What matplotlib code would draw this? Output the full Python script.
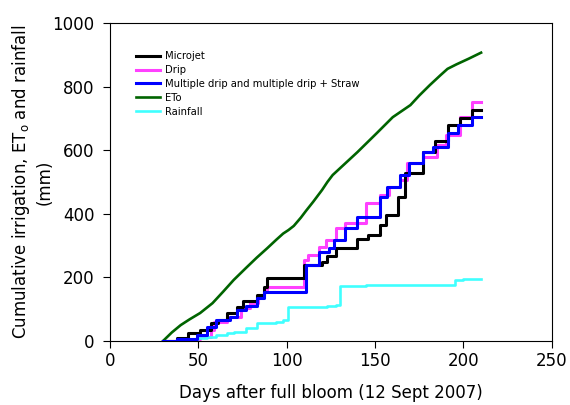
import matplotlib
matplotlib.use("Agg")
import matplotlib.pyplot as plt

plt.rcParams['font.family'] = ['DejaVu Sans']

micro_days = [30, 38, 44, 51, 57, 61, 66, 72, 75, 83, 87, 89, 110, 120, 123, 128, 140, 146, 153, 156, 163, 167, 177, 184, 191, 198, 205, 210]
micro_vals = [0, 9, 24, 35, 57, 66, 88, 107, 126, 145, 170, 198, 239, 248, 267, 292, 320, 333, 365, 396, 453, 528, 594, 629, 679, 701, 726, 726]

drip_days = [30, 47, 51, 57, 59, 66, 74, 79, 84, 87, 89, 110, 112, 118, 122, 128, 133, 145, 153, 158, 164, 168, 177, 185, 190, 198, 205, 210]
drip_vals = [0, 5, 13, 35, 60, 75, 104, 120, 145, 160, 170, 255, 270, 296, 318, 355, 371, 434, 459, 484, 506, 560, 579, 616, 648, 704, 752, 752]

multi_days = [30, 38, 49, 55, 60, 68, 72, 77, 83, 87, 111, 118, 124, 127, 133, 140, 153, 157, 164, 169, 177, 183, 191, 197, 205, 210]
multi_vals = [0, 5, 19, 44, 66, 75, 97, 110, 135, 154, 239, 280, 292, 318, 355, 390, 453, 484, 522, 560, 594, 610, 654, 679, 704, 704]

eto_days = [30, 35, 40, 45, 51, 58, 64, 70, 77, 83, 89, 94, 98, 101, 104, 108, 111, 115, 120, 123, 126, 133, 140, 151, 160, 170, 175, 181, 187, 191, 196, 203, 210]
eto_vals = [0, 27, 50, 68, 88, 119, 155, 192, 230, 262, 292, 318, 338, 349, 362, 388, 410, 438, 475, 500, 522, 558, 594, 654, 704, 742, 772, 805, 836, 856, 870, 888, 907]

rain_days = [30, 40, 45, 50, 55, 60, 66, 70, 77, 83, 94, 98, 101, 123, 128, 130, 145, 195, 200, 210]
rain_vals = [0, 2, 5, 10, 13, 18, 25, 28, 40, 57, 60, 66, 107, 110, 113, 173, 177, 193, 195, 195]

fig = plt.figure(figsize=(5.7, 4.05), dpi=100)
ax = fig.add_axes([0.193, 0.158, 0.775, 0.785])

ax.step(micro_days, micro_vals, where='post', color='black', lw=2.2, label='Microjet', zorder=3)
ax.step(drip_days, drip_vals, where='post', color='#ff40ff', lw=2.2, label='Drip', zorder=2)
ax.step(multi_days, multi_vals, where='post', color='#0000ff', lw=2.2,
        label='Multiple drip and multiple drip + Straw', zorder=4)
ax.plot(eto_days, eto_vals, color='#006400', lw=1.9, label='ETo', zorder=3)
ax.step(rain_days, rain_vals, where='post', color='#40ffff', lw=1.9, label='Rainfall', zorder=2)

ax.set_xlim(0, 250)
ax.set_ylim(0, 1000)
ax.set_xticks([0, 50, 100, 150, 200, 250])
ax.set_yticks([0, 200, 400, 600, 800, 1000])
ax.tick_params(direction='out', length=5, width=0.8, labelsize=12, top=False, right=False)
ax.tick_params(axis='y', pad=6)
ax.tick_params(axis='x', pad=3)
for s in ax.spines.values():
    s.set_linewidth(0.8)

ax.set_xlabel('Days after full bloom (12 Sept 2007)', fontsize=12, labelpad=10)
ax.set_ylabel('Cumulative irrigation, ET$_\\mathregular{o}$ and rainfall\n(mm)', fontsize=12,
              linespacing=1.3)
ax.yaxis.set_label_coords(-0.127, 0.5)

leg = ax.legend(loc='upper left', bbox_to_anchor=(0.045, 0.93), frameon=False,
                fontsize=7.2,
                handlelength=2.4, handletextpad=0.55, labelspacing=0.38, borderaxespad=0.2)

fig.savefig('out.png', dpi=100)
